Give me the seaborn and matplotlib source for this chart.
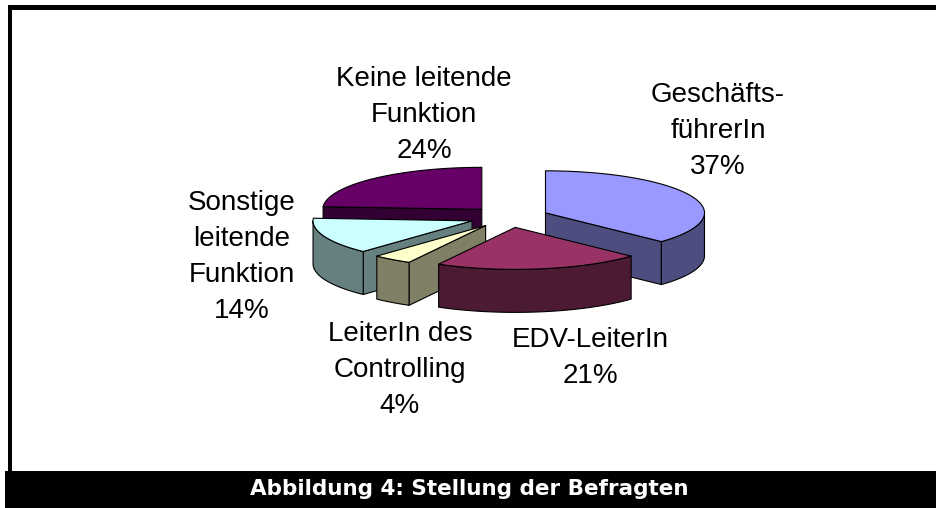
import numpy as np
import matplotlib
matplotlib.use("Agg")
import matplotlib.pyplot as plt
from matplotlib.patches import Polygon, Rectangle
import seaborn as sns

# data
categories = ["Geschäfts-\nführerIn", "EDV-LeiterIn", "LeiterIn des\nControlling",
              "Sonstige\nleitende\nFunktion", "Keine leitende\nFunktion"]
shares = [37, 21, 4, 14, 24]
top_colors = ["#9999FF", "#993366", "#FFFFCC", "#CCFFFF", "#660066"]

# label anchors (x centre, baseline of last line) in pixels
label_pos = [(718, 174), (590, 383), (400, 413), (242, 318), (424, 158)]

sns.set_style("white")
plt.rcParams['font.family'] = ['Liberation Sans', 'DejaVu Sans']

W, H = 937, 508
fig = plt.figure(figsize=(W / 100, H / 100), dpi=100)
ax = fig.add_axes([0, 0, 1, 1])
ax.set_xlim(0, W)
ax.set_ylim(H, 0)
ax.axis("off")

# pie geometry (pixels)
CX, CY = 509, 217
A, B = 159, 42       # ellipse half axes
DEPTH = 43
EXPLODE = 0.25


def rim(ox, oy, ang):
    t = np.radians(ang)
    return ox + A * np.sin(t), oy - B * np.cos(t)


def arc(ox, oy, a1, a2, dy=0):
    n = max(int(abs(a2 - a1)), 2) + 1
    angs = np.linspace(a1, a2, n)
    xs, ys = rim(ox, oy, angs)
    return list(zip(xs, ys + dy))


total = sum(shares)
bounds = np.concatenate([[0], np.cumsum(shares)]) / total * 360
slices = []
for i in range(len(shares)):
    a1, a2 = bounds[i], bounds[i + 1]
    mid = (a1 + a2) / 2
    ox = CX + EXPLODE * A * np.sin(np.radians(mid))
    oy = CY - EXPLODE * B * np.cos(np.radians(mid))
    slices.append((i, a1, a2, mid, ox, oy))

# back to front
slices.sort(key=lambda s: -np.cos(np.radians(s[3])))

for i, a1, a2, mid, ox, oy in slices:
    top = top_colors[i]
    rgb = np.array(matplotlib.colors.to_rgb(top))
    side = tuple(rgb * 0.5)
    kw = dict(edgecolor="black", linewidth=0.8, joinstyle="round")
    # radial cut faces
    for ang, vis in ((a1, np.sin(np.radians(a1)) < -1e-6),
                     (a2, np.sin(np.radians(a2)) > 1e-6)):
        if vis:
            rx, ry = rim(ox, oy, ang)
            ax.add_patch(Polygon([(ox, oy), (rx, ry), (rx, ry + DEPTH), (ox, oy + DEPTH)],
                                 facecolor=side, **kw))
    # outer wall (front half)
    w1, w2 = max(a1, 90), min(a2, 270)
    if w2 > w1:
        pts = arc(ox, oy, w1, w2) + arc(ox, oy, w2, w1, DEPTH)
        ax.add_patch(Polygon(pts, facecolor=side, **kw))
    # top face
    ax.add_patch(Polygon([(ox, oy)] + arc(ox, oy, a1, a2), facecolor=top, **kw))

for i, (lx, ly) in enumerate(label_pos):
    ax.text(lx, ly, f"{categories[i]}\n{shares[i]}%", ha="center", va="baseline",
            fontsize=20, linespacing=1.5, color="black")

# frame and caption bar
ax.add_patch(Rectangle((8, 5), W - 8, 5, color="black", lw=0))
ax.add_patch(Rectangle((8, 5), 4, 470, color="black", lw=0))
ax.add_patch(Rectangle((5, 471), W - 5, H - 471, color="black", lw=0))
ax.text(469, 489, "Abbildung 4: Stellung der Befragten", ha="center", va="center",
        color="white", fontsize=15.5, fontweight="bold", family=["DejaVu Sans"])

fig.savefig("out.png", dpi=100)
